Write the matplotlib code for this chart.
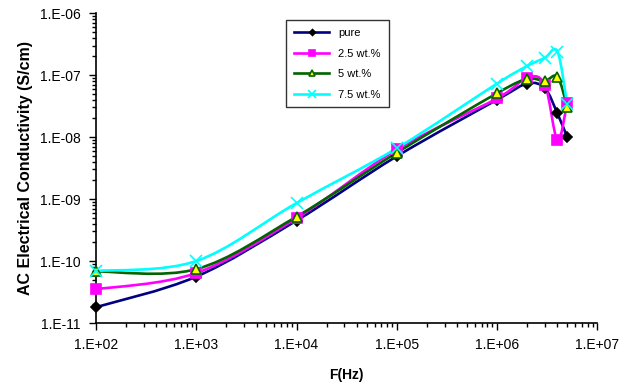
import matplotlib
matplotlib.use('Agg')
import matplotlib.pyplot as plt
import numpy as np
from matplotlib.path import Path
from matplotlib.patches import PathPatch
from matplotlib.lines import Line2D

plt.rcParams['font.family'] = ['Liberation Sans', 'DejaVu Sans']

# frecuencias (Hz)
freq = [1e2, 1e3, 1e4, 1e5, 1e6, 2e6, 3e6, 4e6, 5e6]

# conductividad AC (S/cm)
pure = [1.8e-11, 5.6e-11, 4.5e-10, 4.9e-9, 4.0e-8, 7.3e-8, 6.1e-8, 2.4e-8, 1.0e-8]
wt25 = [3.5e-11, 6.4e-11, 4.9e-10, 6.3e-9, 4.2e-8, 9.1e-8, 6.9e-8, 8.9e-9, 3.5e-8]
wt5 = [6.8e-11, 7.4e-11, 5.2e-10, 5.6e-9, 5.1e-8, 8.6e-8, 8.1e-8, 9.4e-8, 3.1e-8]
wt75 = [6.9e-11, 1.0e-10, 8.6e-10, 6.6e-9, 7.3e-8, 1.4e-7, 1.9e-7, 2.4e-7, 3.4e-8]

labels = ['pure', '2.5 wt.%', '5 wt.%', '7.5 wt.%']


def smooth_path(x, y):
    # curva suavizada tipo Excel (Bezier), control en espacio log
    lx = np.log10(x)
    ly = np.log10(y)
    p = np.column_stack([lx, ly])
    n = len(p)
    verts = [p[0]]
    codes = [Path.MOVETO]
    for i in range(n - 1):
        p0 = p[i - 1] if i > 0 else p[i]
        p3 = p[i + 2] if i + 2 < n else p[i + 1]
        c1 = p[i] + (p[i + 1] - p0) / 6.0
        c2 = p[i + 1] - (p3 - p[i]) / 6.0
        verts += [c1, c2, p[i + 1]]
        codes += [Path.CURVE4] * 3
    verts = 10 ** np.array(verts)
    return Path(verts, codes)


fig = plt.figure(figsize=(6.19, 3.85), dpi=100)
ax = fig.add_axes([0.155, 0.161, 0.81, 0.805])
ax.set_xscale('log')
ax.set_yscale('log')

series = [
    (pure, '#000080', 'D', 'black', 'black', 5),
    (wt25, '#FF00FF', 's', '#FF00FF', '#FF00FF', 7),
    (wt5, '#006400', '^', '#FFFF00', '#006400', 7),
    (wt75, '#00FFFF', 'x', '#00FFFF', '#00FFFF', 8),
]

handles = []
for (vals, col, mk, mfc, mec, ms), lab in zip(series, labels):
    ax.add_patch(PathPatch(smooth_path(freq, vals), facecolor='none',
                           edgecolor=col, lw=1.9, zorder=2))
    ax.plot(freq, vals, ls='none', marker=mk, ms=ms, mfc=mfc, mec=mec,
            mew=1.2, zorder=3, clip_on=False)
    handles.append(Line2D([], [], color=col, lw=1.9, marker=mk, ms=ms - 2,
                          mfc=mfc, mec=mec, mew=1.2))

ax.set_xlim(1e2, 1e7)
ax.set_ylim(1e-11, 1e-6)
ax.set_xticks([1e2, 1e3, 1e4, 1e5, 1e6, 1e7])
ax.set_xticklabels(['1.E+02', '1.E+03', '1.E+04', '1.E+05', '1.E+06', '1.E+07'])
ax.set_yticks([1e-11, 1e-10, 1e-9, 1e-8, 1e-7, 1e-6])
ax.set_yticklabels(['1.E-11', '1.E-10', '1.E-09', '1.E-08', '1.E-07', '1.E-06'])
ax.tick_params(which='major', direction='out', length=5, width=1, labelsize=10, pad=6)
ax.tick_params(which='minor', direction='out', length=3, width=1)
ax.spines['top'].set_visible(False)
ax.spines['right'].set_visible(False)
ax.spines['left'].set_linewidth(1.2)
ax.spines['bottom'].set_linewidth(1.2)

ax.set_xlabel('F(Hz)', fontsize=10, fontweight='bold', labelpad=11)
ax.set_ylabel('AC Electrical Conductivity (S/cm)', fontsize=11.5,
              fontweight='bold', labelpad=5)

leg = ax.legend(handles, labels, loc='upper left', bbox_to_anchor=(0.368, 0.995),
                fontsize=8, frameon=True, fancybox=False, edgecolor='black',
                handlelength=3.2, labelspacing=0.95, borderpad=0.7)
leg.get_frame().set_linewidth(1.0)

fig.savefig('out.png', dpi=100)
